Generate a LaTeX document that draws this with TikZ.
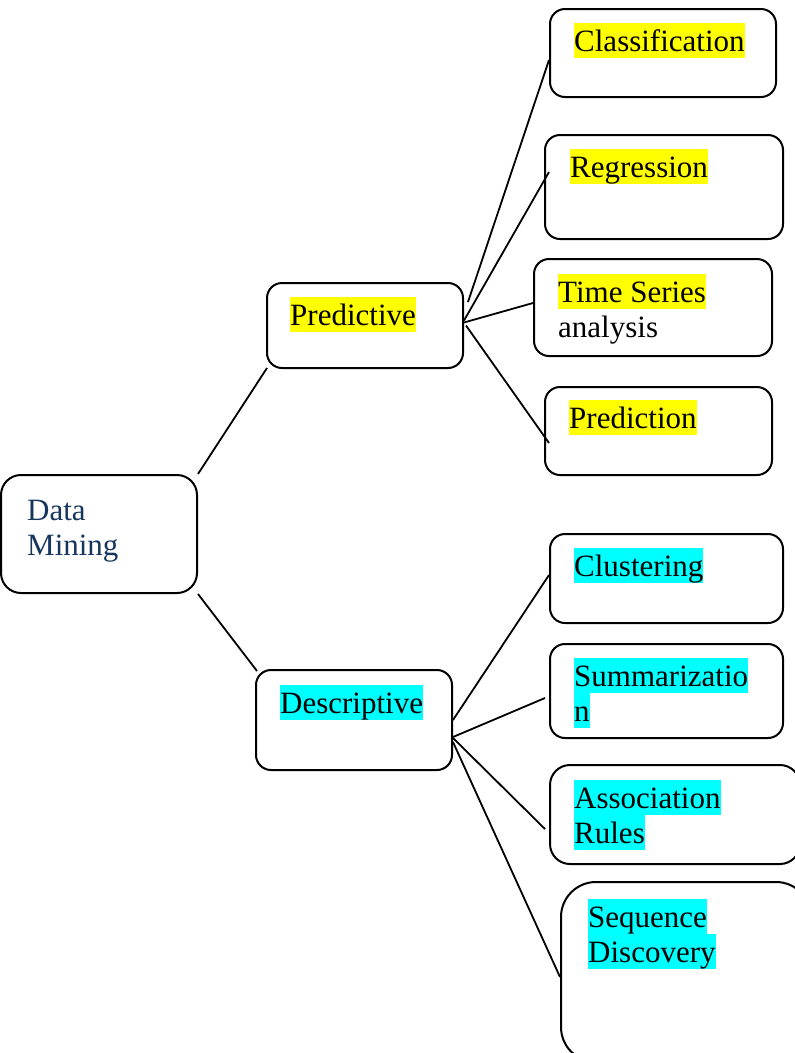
\documentclass[tikz,border=0pt]{standalone}
\usepackage{fontspec}
\setmainfont{Liberation Serif}
\usetikzlibrary{calc}
\definecolor{hlyellow}{RGB}{255,255,0}
\definecolor{hlcyan}{RGB}{0,255,255}
\definecolor{dmblue}{RGB}{23,54,93}
\tikzset{
  boxnode/.style={draw=black, line width=2pt, rounded corners=15pt, inner sep=0pt, fill=none},
  conn/.style={draw=black, line width=1.8pt},
  txt/.style={anchor=north west, inner sep=0pt, text height=28pt, text depth=7pt, font=\fontsize{31}{35}\selectfont},
  hly/.style={txt, fill=hlyellow},
  hlc/.style={txt, fill=hlcyan},
}
\begin{document}
\begin{tikzpicture}[x=1pt,y=-1pt]
\useasboundingbox (0,0) rectangle (795,1053);
\clip (0,0) rectangle (795,1053);
% boxes
\node[boxnode, rounded corners=20pt, minimum width=196pt, minimum height=118pt] (dm) at (99,534) {};
\node[boxnode, minimum width=196pt, minimum height=85pt] (pred) at (365,325.5) {};
\node[boxnode, minimum width=196pt, minimum height=100pt] (desc) at (354,720) {};
\node[boxnode, minimum width=226pt, minimum height=88pt] (cls) at (663,53) {};
\node[boxnode, minimum width=238pt, minimum height=104pt] (reg) at (664,187) {};
\node[boxnode, minimum width=238pt, minimum height=97pt] (ts) at (653,307.5) {};
\node[boxnode, minimum width=227pt, minimum height=88pt] (prd) at (658.5,431) {};
\node[boxnode, minimum width=233pt, minimum height=89pt] (clu) at (666.5,578.5) {};
\node[boxnode, minimum width=233pt, minimum height=94pt] (sum) at (666.5,691) {};
\node[boxnode, rounded corners=20pt, minimum width=250pt, minimum height=99pt] (ass) at (675,814.5) {};
\node[boxnode, rounded corners=35pt, minimum width=250pt, minimum height=180pt] (seq) at (686,972) {};
% texts
\node[txt, text=dmblue] (t-data) at (27,492) {Data};
\node[txt, text=dmblue] (t-mining) at (27,527) {Mining};
\node[hly] (t-pred) at (290,297) {Predictive};
\node[hlc] (t-desc) at (280,685) {Descriptive};
\node[hly] (t-cls) at (574,23) {Classification};
\node[hly] (t-reg) at (570,149) {Regression};
\node[hly] (t-ts) at (558,274) {Time Series};
\node[txt] (t-ana) at (558,309) {analysis};
\node[hly] (t-prd) at (569,400) {Prediction};
\node[hlc] (t-clu) at (574,548) {Clustering};
\node[hlc] (t-sum) at (574,658) {Summarizatio};
\node[hlc] (t-sum2) at (574,693) {n};
\node[hlc] (t-ass) at (574,780) {Association};
\node[hlc] (t-ass2) at (574,815) {Rules};
\node[hlc] (t-seq) at (588,899) {Sequence};
\node[hlc] (t-seq2) at (588,934) {Discovery};
% connectors
\draw[conn] (dm.north east) -- ($(pred.south west)+(1,-1)$);
\draw[conn] (dm.south east) -- ($(desc.north west)+(2,2)$);
\draw[conn] ($(pred.east)+(4,-23.5)$) -- ($(cls.west)+(0,7)$);
\draw[conn] ($(pred.east)+(0,-5)$) -- ($(reg.west)+(5,-15)$);
\draw[conn] ($(pred.east)+(0,-3)$) -- ($(ts.west)+(0,-4.5)$);
\draw[conn] ($(pred.east)+(2,0)$) -- ($(prd.west)+(5,12)$);
\draw[conn] (desc.east) -- ($(clu.west)+(0,-3.5)$);
\draw[conn] ($(desc.east)+(0,17)$) -- ($(sum.west)+(-4,7)$);
\draw[conn] ($(desc.east)+(0,18)$) -- ($(ass.west)+(-4,14.5)$);
\draw[conn] ($(desc.east)+(0,22)$) -- ($(seq.west)+(0,5)$);
\end{tikzpicture}
\end{document}
